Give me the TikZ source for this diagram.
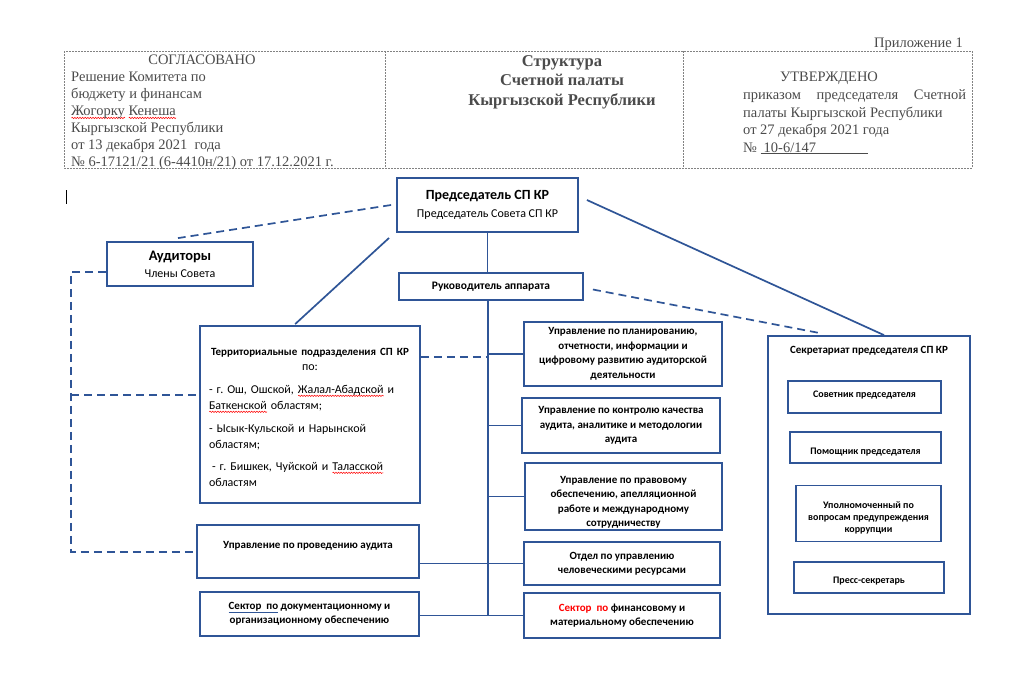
\documentclass[tikz,border=0pt]{standalone}
\usepackage{fontspec}
\setmainfont{Liberation Serif}
\newfontfamily\carl{Carlito}
\usetikzlibrary{calc,decorations.pathmorphing}
\definecolor{myblue}{RGB}{47,85,151}
\definecolor{hdrgray}{RGB}{75,75,75}
\definecolor{dashgray}{RGB}{130,130,130}
\frenchspacing
\newsavebox\wavebox
\newlength\wavelen
\newcommand\redwave[1]{\leavevmode\sbox\wavebox{#1}\setlength\wavelen{\wd\wavebox}%
  \rlap{\raisebox{-3.2pt}{\tikz\draw[red, line width=0.5pt, decorate,
    decoration={snake, amplitude=0.7pt, segment length=2.6pt}] (0pt,0pt) -- (\wavelen,0pt);}}%
  \usebox\wavebox}
\newcommand\blueul[1]{{\color{myblue}\underline{\textcolor{black}{#1}}}}
\tikzset{
  box/.style={draw=myblue, line width=1.8pt, fill=white, inner sep=0pt, align=center,
    font=\carl\bfseries\fontsize{11}{14.5}\selectfont},
  txt/.style={inner sep=0pt, align=center, font=\carl\bfseries\fontsize{11}{14.5}\selectfont},
  stxt/.style={inner sep=0pt, align=center, font=\carl\bfseries\fontsize{10}{12}\selectfont},
  conn/.style={draw=myblue, line width=1.7pt},
  dconn/.style={conn, dash pattern=on 8pt off 5pt},
  hdr/.style={inner sep=0pt, text=hdrgray, font=\fontsize{14.5}{17}\selectfont},
  hdrb/.style={inner sep=0pt, text=hdrgray, font=\fontsize{16.5}{19}\selectfont\bfseries},
  hframe/.style={draw=dashgray, line width=0.8pt, dash pattern=on 2pt off 1pt},
}
\begin{document}
\begin{tikzpicture}[x=1pt,y=-1pt]
\useasboundingbox (0,0) rectangle (1024,683);
\fill[white] (0,0) rectangle (1024,683);

% ---------- header ----------
\draw[hframe] (64,51) rectangle (972,168);
\draw[hframe] (385,51) -- (385,168);
\draw[hframe] (683,51) -- (683,168);

\node[hdr, anchor=base east] (appx) at (963,47) {Приложение 1};

\node[hdr, anchor=base] (sogl) at (202,64) {СОГЛАСОВАНО};
\foreach \t [count=\i] in {{Решение Комитета по},{бюджету и финансам},{\redwave{Жогорку} \redwave{Кенеша}},{Кыргызской Республики},{от 13 декабря 2021~ года},{№ 6-17121/21 (6-4410н/21) от 17.12.2021 г.}}
  \node[hdr, anchor=base west] (sl\i) at (71,{81.7+17*(\i-1)}) {\t};

\node[hdrb, anchor=base] (tt1) at (562,66) {Структура};
\node[hdrb, anchor=base] (tt2) at (562,85.5) {Счетной палаты};
\node[hdrb, anchor=base] (tt3) at (562,105) {Кыргызской Республики};

\node[hdr, anchor=base] (utv) at (829,81) {УТВЕРЖДЕНО};
\node[hdr, anchor=base west] (ur1) at (743,99) {\makebox[223pt][s]{приказом председателя Счетной}};
\node[hdr, anchor=base west] (ur2) at (743,117) {палаты Кыргызской Республики};
\node[hdr, anchor=base west] (ur3) at (743,134) {от 27 декабря 2021 года};
\node[hdr, anchor=base west] (ur4) at (743,152) {№~\rlap{\textcolor{hdrgray}{\rule[-2pt]{107pt}{0.7pt}}}\hspace{3pt}10-6/147};

% text cursor
\draw[black, line width=1pt] (66,190) -- (66,204);

% ---------- boxes ----------
\node[box, minimum width=181pt, minimum height=54pt] (pred) at (487.5,205)
  {{\fontsize{14}{16}\selectfont Председатель СП КР}\\[3.5pt]{\mdseries\fontsize{12}{14}\selectfont Председатель Совета СП КР}};
\node[box, minimum width=146pt, minimum height=44pt] (aud) at (180,264)
  {{\fontsize{14.5}{16}\selectfont Аудиторы}\\[2.5pt]{\mdseries\fontsize{12}{14}\selectfont Члены Совета}};
\node[box, minimum width=184pt, minimum height=27pt] (ruk) at (491,286.5)
  {\fontsize{11.5}{14}\selectfont Руководитель аппарата};

\node[box, minimum width=220pt, minimum height=177pt] (terr) at (310,414.5) {};
\node[inner sep=0pt, text width=202pt, align=left,
  font=\carl\fontsize{12}{16}\selectfont] (terrt) at ([shift={(0,3)}]terr.center) {%
\makebox[202pt]{\bfseries\fontsize{11}{13}\selectfont Территориальные подразделения СП КР}\\[-1pt]
\makebox[202pt]{по:}\\[7pt]
- г. Ош, Ошской, \redwave{Жалал-Абадской} и\\
\redwave{Баткенской} областям;\\[7pt]
- Ысык-Кульской и Нарынской\\
областям;\\[6pt]
\hspace*{3pt}- г. Бишкек, Чуйской и \redwave{Таласской}\\
областям};

\node[box, minimum width=222pt, minimum height=53pt] (prov) at (308,551.5) {};
\node[txt] (provt) at (308,546) {Управление по проведению аудита};
\node[box, minimum width=219pt, minimum height=44pt] (sekdok) at (309.5,614)
  {\blueul{Сектор\ \ по} документационному и\\организационному обеспечению};

\node[box, minimum width=198pt, minimum height=64pt] (plan) at (623,354)
  {Управление по планированию,\\отчетности, информации и\\цифровому развитию аудиторской\\деятельности};
\node[box, minimum width=198pt, minimum height=55pt] (control) at (621,425.5)
  {Управление по контролю качества\\аудита, аналитике и методологии\\аудита};
\node[box, minimum width=197pt, minimum height=67pt] (legal) at (623.5,496.5) {};
\node[txt] (legalt) at (623.5,502.5)
  {Управление по правовому\\обеспечению, апелляционной\\работе и международному\\сотрудничеству};
\node[box, minimum width=196pt, minimum height=43pt] (otdel) at (622,563.5)
  {Отдел по управлению\\человеческими ресурсами};
\node[box, minimum width=196pt, minimum height=45pt] (fin) at (622,615.5)
  {\textcolor{red}{Сектор\ \ по} финансовому и\\материальному обеспечению};

\node[box, minimum width=202pt, minimum height=278pt] (secr) at (869,475) {};
\node[txt, font=\carl\bfseries\fontsize{11}{13}\selectfont] (secrt) at ([shift={(0,16)}]secr.north) {Секретариат председателя СП КР};
\node[box, minimum width=153pt, minimum height=32pt] (sov) at (864.5,397) {};
\node[stxt] (sovt) at (864.5,395.5) {Советник председателя};
\node[box, minimum width=151pt, minimum height=31pt] (pom) at (865.5,447.5) {};
\node[stxt] (pomt) at (865.5,452) {Помощник председателя};
\node[box, minimum width=145pt, minimum height=56pt] (upol) at (868.5,513.5) {};
\node[stxt] (upolt) at (868.5,517.5) {Уполномоченный по\\вопросам предупреждения\\коррупции};
\node[box, minimum width=150pt, minimum height=31pt] (press) at (869,577.5) {};
\node[stxt] (presst) at (869,581) {Пресс-секретарь};

% ---------- connectors ----------
\draw[conn] ([shift={(-7,5)}]pred.south west) -- ([shift={(96,-1)}]terr.north west);
\draw[conn] ([shift={(8,-5)}]pred.east) -- ([shift={(15,0)}]secr.north);
\draw[dconn] ([shift={(-5,0)}]pred.west) -- ([shift={(-2,-3)}]aud.north);
\draw[conn] (pred.south) -- (pred.south |- ruk.north);
\draw[dconn] ([shift={(9,3)}]ruk.east) -- ([shift={(-49,-2)}]secr.north);

\coordinate (tr) at (488,357);
\draw[conn] (ruk.south -| tr) -- (fin.west -| tr);
\foreach \b in {plan,control,legal,otdel,fin}
  \draw[conn] (\b.west -| tr) -- (\b.west);
\draw[conn] (prov.east |- otdel.west) -- (otdel.west -| tr);
\draw[conn] (sekdok.east |- fin.west) -- (fin.west -| tr);
\draw[dconn] (terr.east |- tr) -- (tr);

\coordinate (l1) at (71,272);
\coordinate (l3) at (71,395);
\coordinate (l2) at (71,552);
\draw[dconn] (aud.west |- l1) -- (l1) -- (l2) -- (prov.west |- l2);
\draw[dconn] (l3) -- (terr.west |- l3);
\end{tikzpicture}
\end{document}
